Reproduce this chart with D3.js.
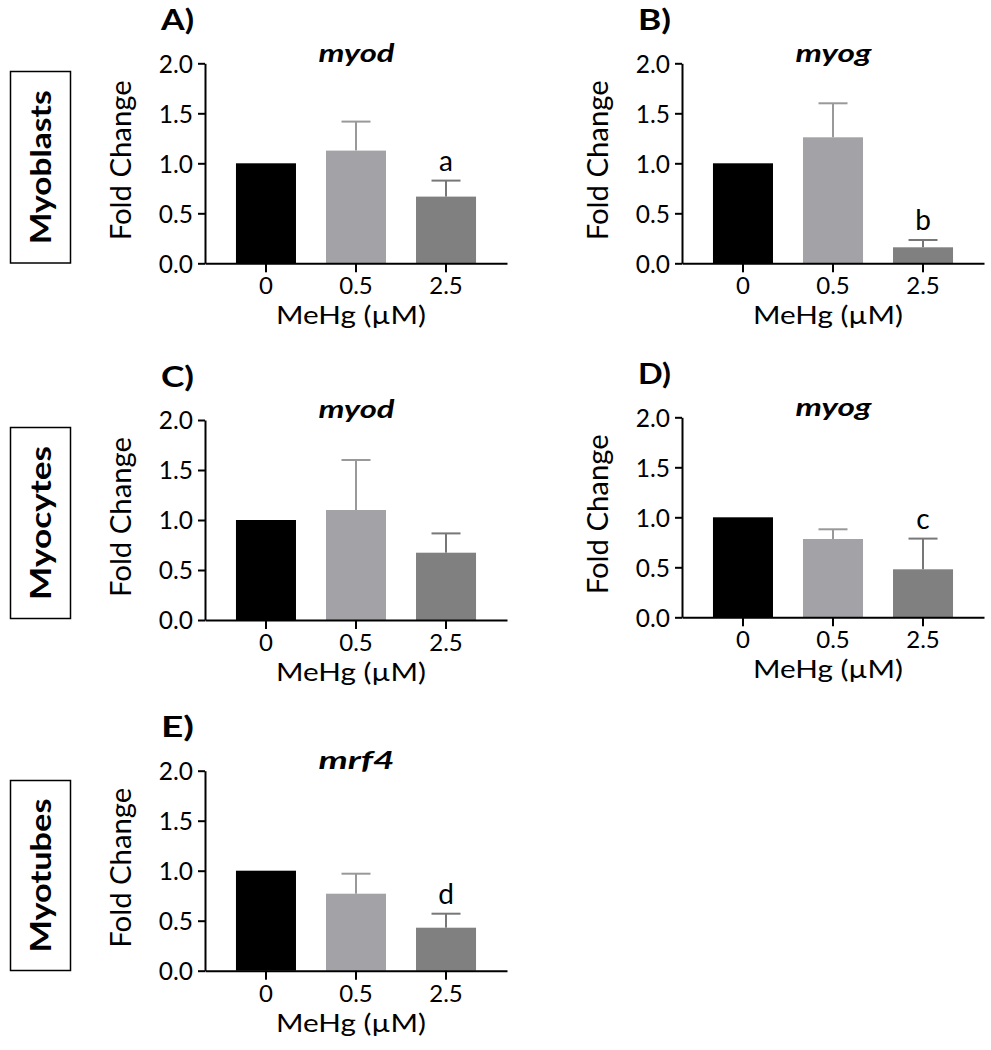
<!DOCTYPE html>
<html>
<head>
<meta charset="utf-8">
<script src="https://cdn.jsdelivr.net/npm/d3@7"></script>
<style>
  html, body { margin: 0; padding: 0; background: #fff; }
  svg { display: block; }
  text { font-family: Lato, "Open Sans", sans-serif; fill: #000; }
</style>
</head>
<body>
<svg id="chart" width="991" height="1050"></svg>
<script>
// ---- data ----
const categories = ["0", "0.5", "2.5"];
const yTicks = [0, 0.5, 1.0, 1.5, 2.0];

const meansA = [1.0, 1.127, 0.667];
const errA   = [0, 0.29, 0.16];
const meansB = [1.0, 1.26, 0.16];
const errB   = [0, 0.34, 0.073];
const meansC = [1.0, 1.10, 0.673];
const errC   = [0, 0.50, 0.193];
const meansD = [1.0, 0.783, 0.48];
const errD   = [0, 0.097, 0.307];
const meansE = [1.0, 0.77, 0.43];
const errE   = [0, 0.20, 0.14];

const panelLetters = ["A)", "B)", "C)", "D)", "E)"];
const genes = ["myod", "myog", "myod", "myog", "mrf4"];
const notes = ["a", "b", null, "c", "d"];
const stageLabels = ["Myoblasts", "Myocytes", "Myotubes"];
const xTitle = "MeHg (\u00B5M)";
const yTitle = "Fold Change";

// ---- styling / layout ----
const barFill = ["#000000", "#a3a3a7", "#808080"];
const errColor = ["#000000", "#999999", "#777777"];

const panels = [
  { ax: 205, y0: 263.3, means: meansA, err: errA },
  { ax: 682, y0: 263.3, means: meansB, err: errB },
  { ax: 205, y0: 620.0, means: meansC, err: errC },
  { ax: 682, y0: 617.3, means: meansD, err: errD },
  { ax: 205, y0: 970.7, means: meansE, err: errE }
];
const boxes = [
  { y: 71.5, h: 191.5 },
  { y: 427.5, h: 191 },
  { y: 780.5, h: 190 }
];

const svg = d3.select("#chart");
const plotW = 302, plotH = 200;

// stretch a text element horizontally to a target width
function fitWidth(sel, w) {
  sel.attr("textLength", w).attr("lengthAdjust", "spacingAndGlyphs");
  return sel;
}

panels.forEach((p, i) => {
  const g = svg.append("g").attr("transform", `translate(${p.ax},${p.y0 - plotH})`);
  const x = d3.scaleBand().domain(categories).range([0, plotW])
    .paddingInner(1/3).paddingOuter(0.344);
  const y = d3.scaleLinear().domain([0, 2]).range([plotH, 0]);

  // bars
  g.selectAll("rect.bar").data(p.means).enter().append("rect")
    .attr("class", "bar")
    .attr("x", (d, j) => x(categories[j]))
    .attr("width", x.bandwidth())
    .attr("y", d => y(d))
    .attr("height", d => plotH - y(d))
    .attr("fill", (d, j) => barFill[j]);

  // error bars (upper only)
  const cap = 14.5;
  p.means.forEach((m, j) => {
    if (!p.err[j]) return;
    const cx = x(categories[j]) + x.bandwidth() / 2;
    const top = y(m + p.err[j]);
    g.append("line").attr("x1", cx).attr("x2", cx).attr("y1", y(m)).attr("y2", top)
      .attr("stroke", errColor[j]).attr("stroke-width", 2);
    g.append("line").attr("x1", cx - cap).attr("x2", cx + cap).attr("y1", top).attr("y2", top)
      .attr("stroke", errColor[j]).attr("stroke-width", 2);
  });

  // significance letter
  if (notes[i]) {
    const j = 2;
    const cx = x(categories[j]) + x.bandwidth() / 2;
    g.append("text").attr("x", cx).attr("y", y(p.means[j] + p.err[j]) - 10)
      .attr("text-anchor", "middle").attr("font-size", 28).text(notes[i]);
  }

  // axes
  const yAxis = g.append("g").call(d3.axisLeft(y).tickValues(yTicks)
    .tickFormat(d3.format(".1f")).tickSize(7).tickSizeOuter(0).tickPadding(5));
  const xAxis = g.append("g").attr("transform", `translate(0,${plotH})`)
    .call(d3.axisBottom(x).tickSize(9).tickSizeOuter(0).tickPadding(5));
  [yAxis, xAxis].forEach(a => {
    a.selectAll("path, line").attr("stroke", "#000").attr("stroke-width", 2);
    a.selectAll("text").attr("font-size", 24.5).attr("fill", "#000")
      .style("font-family", "Lato, 'Open Sans', sans-serif");
  });
  yAxis.selectAll("text").attr("dy", "0.36em");
  xAxis.selectAll("text").attr("font-size", 24);

  // axis titles
  fitWidth(g.append("text").attr("x", plotW / 2 - 5).attr("y", plotH + 61)
    .attr("text-anchor", "middle").attr("font-size", 24.5).text(xTitle), 150);
  fitWidth(g.append("text").attr("transform", `translate(-74,${plotH / 2 - 3}) rotate(-90)`)
    .attr("text-anchor", "middle").attr("font-size", 28).text(yTitle), 160);

  // gene title
  fitWidth(g.append("text").attr("x", plotW / 2 + 0.5).attr("y", -1.6)
    .attr("text-anchor", "middle").attr("font-size", 24)
    .attr("font-weight", "bold").attr("font-style", "italic").text(genes[i]), 76);

  // panel letter
  fitWidth(g.append("text").attr("x", -44).attr("y", -33.3)
    .attr("font-size", 29).attr("font-weight", "bold").text(panelLetters[i]), 33);
});

// stage boxes
boxes.forEach((b, k) => {
  svg.append("rect").attr("x", 10.5).attr("y", b.y).attr("width", 60).attr("height", b.h)
    .attr("fill", "none").attr("stroke", "#000").attr("stroke-width", 1.5);
  fitWidth(svg.append("text")
    .attr("transform", `translate(50.5,${b.y + b.h / 2}) rotate(-90)`)
    .attr("text-anchor", "middle").attr("font-size", 29).attr("font-weight", "bold")
    .text(stageLabels[k]), 154);
});
</script>
</body>
</html>
